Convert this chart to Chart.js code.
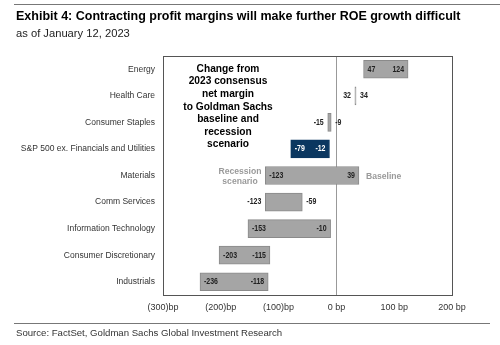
<!DOCTYPE html>
<html>
<head>
<meta charset="utf-8">
<script src="https://cdn.jsdelivr.net/npm/chart.js@4"></script>
<style>
  html, body { margin: 0; padding: 0; background: #fff; overflow: hidden; }
  canvas { display: block; }
</style>
</head>
<body>
<canvas id="grafico" width="500" height="345"></canvas>
<script>
const sectors = ['Energy', 'Health Care', 'Consumer Staples', 'S&P 500 ex. Financials and Utilities',
    'Materials', 'Comm Services', 'Information Technology', 'Consumer Discretionary', 'Industrials'];
const recession = [47, 32, -15, -79, -123, -123, -153, -203, -236];
const baseline = [124, 34, -9, -12, 39, -59, -10, -115, -118];
const xTicks = [-300, -200, -100, 0, 100, 200];

const GRAY = '#a5a5a5';
const NAVY = '#0b3760';
const FONT = 'Arial, "Liberation Sans", sans-serif';

const fmtTick = v => v < 0 ? `(${-v})bp` : `${v} bp`;

// condensed text: squeeze horizontally around the anchor
function narrowText(ctx, txt, x, y, align, sx) {
    ctx.save();
    ctx.translate(x, y);
    ctx.scale(sx, 1);
    ctx.textAlign = align;
    ctx.fillText(txt, 0, 0);
    ctx.restore();
}

const frame = {
    id: 'frame',
    afterDraw(chart) {
        const ctx = chart.ctx;
        const a = chart.chartArea;
        ctx.save();
        ctx.strokeStyle = '#777';
        ctx.lineWidth = 1;
        ctx.beginPath();
        ctx.moveTo(14, 4.5); ctx.lineTo(500, 4.5);
        ctx.moveTo(14, 323.5); ctx.lineTo(490, 323.5);
        ctx.stroke();
        ctx.strokeStyle = '#555';
        ctx.strokeRect(Math.round(a.left) + 0.5, Math.round(a.top) + 0.5,
            Math.round(a.right - a.left), Math.round(a.bottom - a.top));

        ctx.fillStyle = '#000';
        ctx.textBaseline = 'middle';
        ctx.textAlign = 'left';
        ctx.font = 'bold 12.5px ' + FONT;
        ctx.fillText('Exhibit 4: Contracting profit margins will make further ROE growth difficult', 16, 17);
        ctx.fillStyle = '#222';
        ctx.font = '11.2px ' + FONT;
        ctx.fillText('as of January 12, 2023', 16, 34);
        ctx.fillStyle = '#333';
        ctx.font = '9.6px ' + FONT;
        ctx.fillText('Source: FactSet, Goldman Sachs Global Investment Research', 16, 333);

        ctx.fillStyle = '#000';
        ctx.textAlign = 'center';
        ctx.font = 'bold 10.2px ' + FONT;
        const note = ['Change from', '2023 consensus', 'net margin', 'to Goldman Sachs',
            'baseline and', 'recession', 'scenario'];
        note.forEach((t, i) => ctx.fillText(t, 228, 69 + i * 12.6));

        ctx.fillStyle = '#9a9a9a';
        ctx.font = 'bold 8.6px ' + FONT;
        ctx.fillText('Recession', 240, 172);
        ctx.fillText('scenario', 240, 181.5);
        ctx.textAlign = 'left';
        ctx.fillText('Baseline', 366, 177);
        ctx.restore();
    }
};

const barLabels = {
    id: 'barLabels',
    afterDatasetsDraw(chart) {
        const ctx = chart.ctx;
        const xs = chart.scales.x;
        const meta = chart.getDatasetMeta(0);
        ctx.save();
        ctx.font = 'bold 8.5px ' + FONT;
        ctx.textBaseline = 'middle';
        meta.data.forEach((bar, i) => {
            const x0 = xs.getPixelForValue(recession[i]);
            const x1 = xs.getPixelForValue(baseline[i]);
            const inside = (baseline[i] - recession[i]) >= 66;
            ctx.fillStyle = i === 3 ? '#fff' : '#222';
            if (inside) {
                narrowText(ctx, recession[i], x0 + 4, bar.y, 'left', 0.82);
                narrowText(ctx, baseline[i], x1 - 4, bar.y, 'right', 0.82);
            } else {
                narrowText(ctx, recession[i], x0 - 4, bar.y, 'right', 0.82);
                narrowText(ctx, baseline[i], x1 + 4, bar.y, 'left', 0.82);
            }
        });
        ctx.restore();
    }
};

new Chart(document.getElementById('grafico'), {
    type: 'bar',
    data: {
        labels: sectors,
        datasets: [{
            data: recession.map((r, i) => [r, baseline[i]]),
            backgroundColor: sectors.map((s, i) => i === 3 ? NAVY : GRAY),
            borderColor: sectors.map((s, i) => i === 3 ? NAVY : '#8a8a8a'),
            borderWidth: 1,
            borderSkipped: false,
            barThickness: 18
        }]
    },
    options: {
        indexAxis: 'y',
        responsive: false,
        animation: false,
        devicePixelRatio: 1,
        layout: { padding: { top: 56, right: 48, left: 0, bottom: 0 } },
        plugins: { legend: { display: false }, tooltip: { enabled: false } },
        scales: {
            x: {
                min: -300,
                max: 200,
                afterBuildTicks: s => { s.ticks = xTicks.map(v => ({ value: v })); },
                afterFit: s => { s.height = 50; },
                border: { display: false },
                grid: {
                    drawTicks: false,
                    color: c => c.tick && c.tick.value === 0 ? '#999' : 'transparent'
                },
                ticks: {
                    padding: 7,
                    color: '#333',
                    font: { family: FONT, size: 9 },
                    callback: v => fmtTick(v),
                    maxRotation: 0,
                    autoSkip: false
                }
            },
            y: {
                afterFit: s => { s.width = 163; },
                border: { display: false },
                grid: { display: false, drawTicks: false },
                ticks: {
                    padding: 8,
                    color: '#333',
                    font: { family: FONT, size: 8.5 },
                    autoSkip: false
                }
            }
        }
    },
    plugins: [frame, barLabels]
});
</script>
</body>
</html>
